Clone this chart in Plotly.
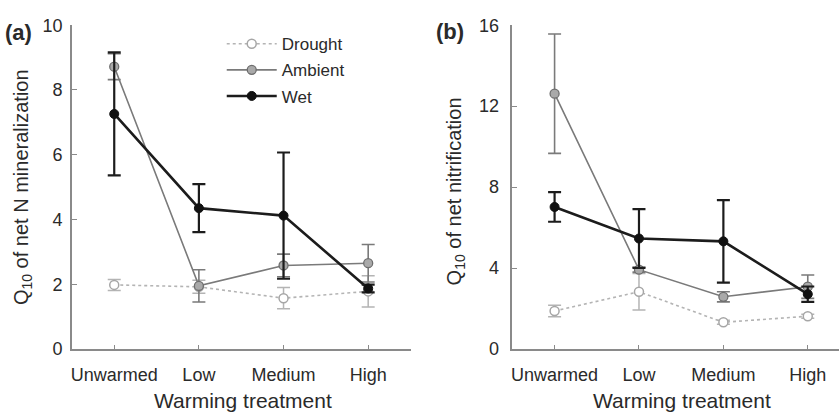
import plotly.graph_objects as go

# Warming treatment levels
categories = ["Unwarmed", "Low", "Medium", "High"]

# (a) Q10 of net N mineralization, mean and error per precipitation treatment
drought_min = [1.98, 1.92, 1.57, 1.78]
drought_min_err = [0.17, 0.20, 0.33, 0.48]
ambient_min = [8.72, 1.95, 2.58, 2.65]
ambient_min_err = [0.40, 0.50, 0.35, 0.58]
wet_min = [7.26, 4.35, 4.12, 1.87]
wet_min_err = [1.90, 0.74, 1.95, 0.12]

# (b) Q10 of net nitrification
drought_nit = [1.88, 2.83, 1.32, 1.62]
drought_nit_err = [0.28, 0.90, 0.10, 0.10]
ambient_nit = [12.62, 3.92, 2.58, 3.08]
ambient_nit_err = [2.95, 0.12, 0.25, 0.58]
wet_nit = [7.02, 5.46, 5.32, 2.71]
wet_nit_err = [0.73, 1.45, 2.04, 0.38]

yticks_min = [0, 2, 4, 6, 8, 10]
yticks_nit = [0, 4, 8, 12, 16]

FONT = "Liberation Sans, Arial, sans-serif"
TEXT = "#2a2a2a"
AXIS = "#8a8a8a"

styles = {
    "Drought": dict(line=dict(color="#b4b4b4", width=1.6, dash="dot"),
                    marker=dict(symbol="circle", size=9, color="white",
                                line=dict(color="#a6a6a6", width=1.5)),
                    err=dict(color="#b4b4b4", thickness=1.5)),
    "Ambient": dict(line=dict(color="#7a7a7a", width=1.6),
                    marker=dict(symbol="circle", size=9, color="#a9a9a9",
                                line=dict(color="#6e6e6e", width=1.3)),
                    err=dict(color="#7a7a7a", thickness=1.6)),
    "Wet": dict(line=dict(color="#1c1c1c", width=2.6),
                marker=dict(symbol="circle", size=9, color="#111111",
                            line=dict(color="#111111", width=1)),
                err=dict(color="#1c1c1c", thickness=2.2)),
}

panels = [
    ("x", "y", [("Drought", drought_min, drought_min_err),
                ("Ambient", ambient_min, ambient_min_err),
                ("Wet", wet_min, wet_min_err)], True),
    ("x2", "y2", [("Drought", drought_nit, drought_nit_err),
                  ("Ambient", ambient_nit, ambient_nit_err),
                  ("Wet", wet_nit, wet_nit_err)], False),
]

fig = go.Figure()
for xa, ya, series, show in panels:
    for name, vals, errs in series:
        st = styles[name]
        fig.add_trace(go.Scatter(
            x=categories, y=vals, name=name, mode="lines+markers",
            xaxis=xa, yaxis=ya, legendgroup=name, showlegend=show,
            line=st["line"], marker=st["marker"],
            error_y=dict(type="data", array=errs, visible=True, width=6.5,
                         color=st["err"]["color"], thickness=st["err"]["thickness"]),
        ))

W, H = 839, 419
top_px, bot_px = 16, 356

def px_x(p):
    return p / W

def px_y(p):
    return (H - p) / H

common_x = dict(type="category", categoryorder="array", categoryarray=categories,
                showline=True, linecolor=AXIS, linewidth=1.6, ticks="inside",
                ticklen=4, tickcolor=AXIS, tickwidth=1.4, showgrid=False, zeroline=False,
                tickfont=dict(family=FONT, size=18, color=TEXT), ticklabelstandoff=9)
common_y = dict(showline=True, linecolor=AXIS, linewidth=1.6, ticks="inside",
                ticklen=5, tickcolor=AXIS, tickwidth=1.4, showgrid=False, zeroline=False,
                tickfont=dict(family=FONT, size=18, color=TEXT))

xa1 = dict(common_x, domain=[px_x(71), px_x(410)], range=[-0.5, 3.5], anchor="y")
xa2 = dict(common_x, domain=[px_x(512), 1.0], range=[-0.5, 3.37], anchor="y2")
ya1 = dict(common_y, domain=[px_y(bot_px), px_y(top_px)], range=[0, 10],
           tickvals=yticks_min, anchor="x", ticklabelstandoff=4)
ya2 = dict(common_y, domain=[px_y(bot_px), px_y(top_px)], range=[0, 16],
           tickvals=yticks_nit, anchor="x2", ticklabelstandoff=8)

def note(text, x, y, size, angle=0, bold=False, xanchor="center"):
    return dict(text=f"<b>{text}</b>" if bold else text, x=x, y=y, xref="paper", yref="paper",
                showarrow=False, textangle=angle, xanchor=xanchor, yanchor="middle",
                font=dict(family=FONT, size=size, color=TEXT))

annotations = [
    note("(a)", px_x(2), px_y(24), 22, bold=True, xanchor="left"),
    note("(b)", px_x(434), px_y(23), 22, bold=True, xanchor="left"),
    note("Warming treatment", px_x(242), px_y(410), 21),
    note("Warming treatment", px_x(682), px_y(410), 21),
    note("Q<sub>10</sub> of net N mineralization", px_x(21), px_y(186), 20, angle=-90),
    note("Q<sub>10</sub> of net nitrification", px_x(455), px_y(190), 20, angle=-90),
]

fig.update_layout(
    width=W, height=H, margin=dict(l=0, r=0, t=0, b=0),
    paper_bgcolor="white", plot_bgcolor="white",
    xaxis=xa1, xaxis2=xa2, yaxis=ya1, yaxis2=ya2,
    annotations=annotations,
    legend=dict(x=px_x(221), y=px_y(17), xanchor="left", yanchor="top",
                bgcolor="rgba(0,0,0,0)", traceorder="grouped", tracegroupgap=1,
                itemwidth=50, font=dict(family=FONT, size=17, color=TEXT)),
    font=dict(family=FONT, color=TEXT),
)

fig.write_html("out.html")
